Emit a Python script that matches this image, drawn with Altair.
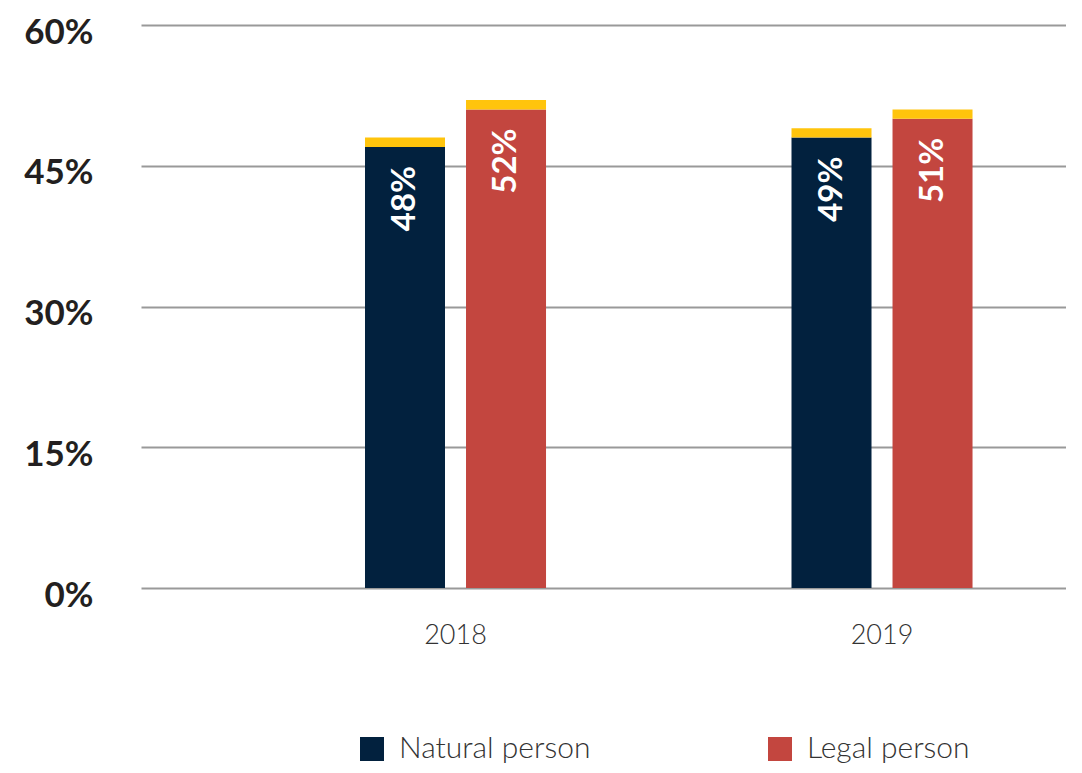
import altair as alt
import pandas as pd

years = ["2018", "2019"]
natural_person = [48, 49]
legal_person = [52, 51]
series = ["Natural person", "Legal person"]
labels_natural = ["48%", "49%"]
labels_legal = ["52%", "51%"]

rows = []
for i, y in enumerate(years):
    rows.append({"year": y, "type": series[0], "value": natural_person[i], "label": labels_natural[i]})
    rows.append({"year": y, "type": series[1], "value": legal_person[i], "label": labels_legal[i]})
df = pd.DataFrame(rows)

FONT = "Lato"
NAVY = "#02213E"
RED = "#C3463F"
YELLOW = "#FFC40C"

xscale = alt.Scale(paddingInner=0.5, paddingOuter=0.3344, align=0.7288)
xoff_scale = alt.Scale(domain=series, paddingInner=0.208, paddingOuter=0.1595)
x_enc = alt.X("year:N", scale=xscale, sort=years,
              axis=alt.Axis(title=None, labelAngle=0, ticks=False, domain=False,
                            labelPadding=34, labelFontSize=27, labelFont=FONT,
                            labelFontWeight=300, labelColor="#333333", grid=False))
xo_enc = alt.XOffset("type:N", scale=xoff_scale, sort=series)

base = alt.Chart(df).transform_calculate(
    body="datum.value - 1", labelpos="datum.value - 6.5"
)

bars = base.mark_bar().encode(
    x=x_enc,
    xOffset=xo_enc,
    y=alt.Y("body:Q", scale=alt.Scale(domain=[0, 60], nice=False),
            axis=alt.Axis(title=None, values=[0, 15, 30, 45, 60], labelExpr="datum.value + '%'",
                          ticks=False, domain=False, labelPadding=48, labelFontSize=35,
                          labelOffset=7,
                          labelFont=FONT, labelFontWeight="bold", labelColor="#231F20",
                          gridColor="#999999", gridWidth=2, gridOpacity=1)),
    y2=alt.datum(0),
    color=alt.Color("type:N", sort=series,
                    scale=alt.Scale(domain=series, range=[NAVY, RED]),
                    legend=alt.Legend(title=None, orient="none", legendX=216, legendY=709,
                                      direction="horizontal", columns=2, columnPadding=174,
                                      symbolType="square", symbolSize=576, symbolStrokeWidth=0,
                                      symbolOpacity=1, labelFontSize=30, labelFont=FONT,
                                      labelFontWeight=300, labelColor="#333333", labelOffset=12,
                                      labelLimit=400)),
)

caps = base.mark_bar(color=YELLOW).encode(
    x=x_enc,
    xOffset=xo_enc,
    y=alt.Y("value:Q"),
    y2=alt.Y2("body:Q"),
)

text = base.mark_text(angle=270, color="white", font=FONT, fontSize=33, fontWeight="bold",
                      align="center", baseline="middle").encode(
    x=x_enc,
    xOffset=xo_enc,
    y=alt.Y("labelpos:Q"),
    text="label:N",
)

chart = alt.layer(bars, caps, text).properties(
    width=925, height=563,
    autosize=alt.AutoSizeParams(type="none"),
    padding={"left": 133, "top": 17, "right": 0, "bottom": 176},
).configure_view(stroke=None)

chart.save("out.html", embed_options={"renderer": "svg", "actions": False})
